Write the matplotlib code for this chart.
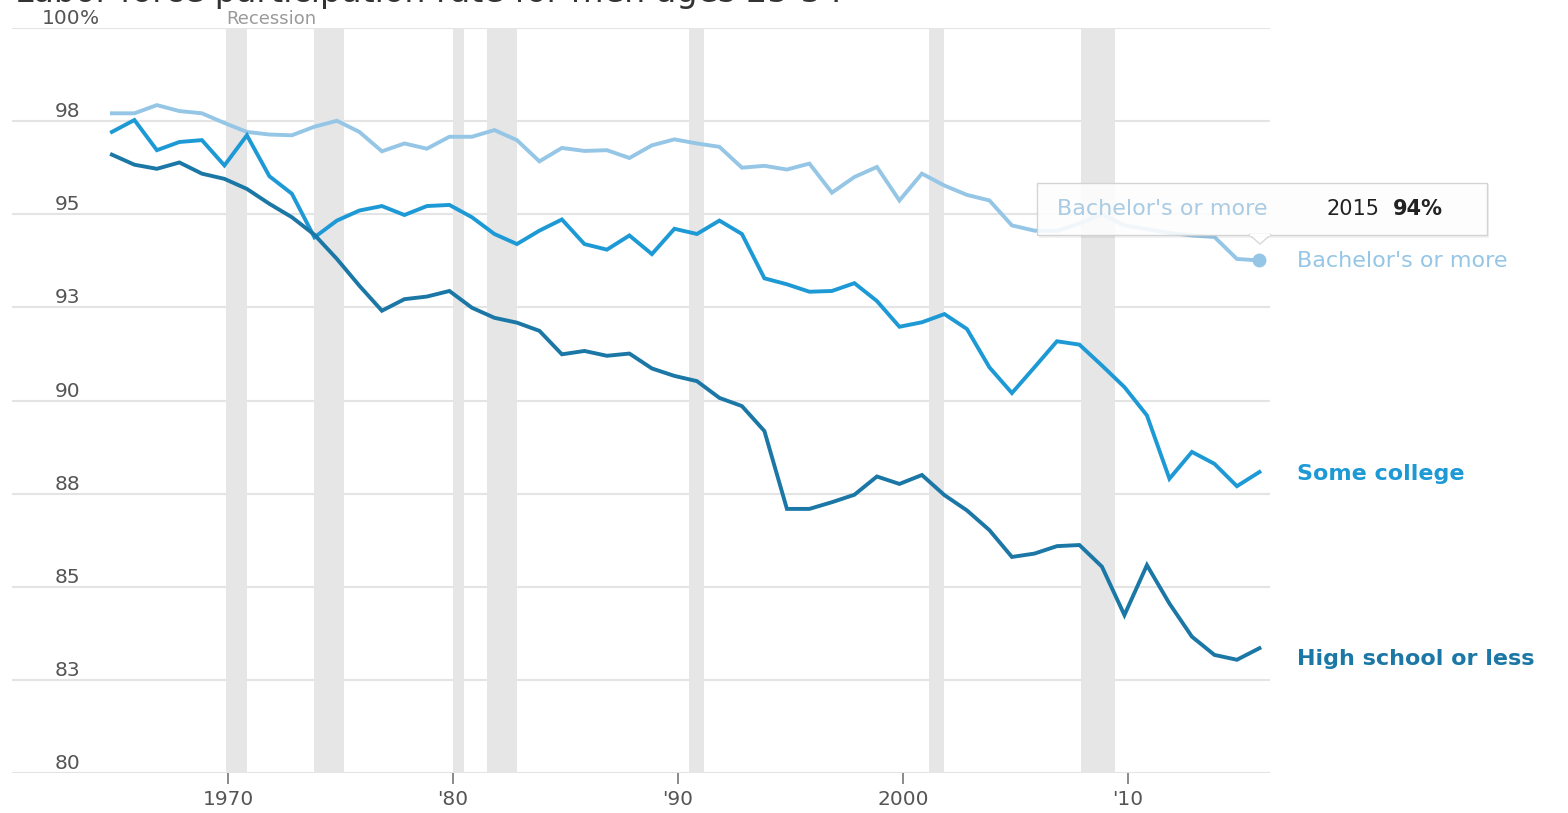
import matplotlib
matplotlib.use("Agg")
import matplotlib.pyplot as plt
import matplotlib.patches as mpatches
from matplotlib.transforms import blended_transform_factory
import numpy as np

# ---------------- data ----------------
years = list(range(1964, 2016))
bachelors = [97.71, 97.71, 97.93, 97.77, 97.71, 97.45, 97.21, 97.14, 97.12, 97.35,
             97.51, 97.21, 96.69, 96.90, 96.76, 97.08, 97.08, 97.26, 96.99, 96.42,
             96.78, 96.70, 96.72, 96.51, 96.85, 97.01, 96.90, 96.81, 96.25, 96.30,
             96.20, 96.36, 95.58, 96.00, 96.27, 95.37, 96.09, 95.77, 95.52, 95.37,
             94.70, 94.56, 94.55, 94.75, 95.00, 94.70, 94.60, 94.50, 94.43, 94.39,
             93.80, 93.76]
some_college = [97.21, 97.53, 96.72, 96.94, 96.99, 96.31, 97.12, 96.02, 95.55, 94.38,
                94.83, 95.10, 95.22, 94.98, 95.22, 95.25, 94.92, 94.47, 94.20, 94.56,
                94.86, 94.20, 94.05, 94.43, 93.93, 94.61, 94.47, 94.83, 94.47, 93.28,
                93.12, 92.92, 92.94, 93.15, 92.67, 91.98, 92.10, 92.32, 91.92, 90.89,
                90.20, 90.89, 91.59, 91.50, 90.94, 90.36, 89.60, 87.90, 88.62, 88.30,
                87.70, 88.08]
high_school = [96.60, 96.33, 96.22, 96.39, 96.09, 95.95, 95.68, 95.28, 94.92, 94.45,
               93.80, 93.08, 92.41, 92.72, 92.79, 92.94, 92.49, 92.22, 92.09, 91.87,
               91.24, 91.33, 91.20, 91.26, 90.86, 90.66, 90.52, 90.07, 89.85, 89.18,
               87.09, 87.09, 87.27, 87.47, 87.96, 87.76, 88.00, 87.46, 87.05, 86.52,
               85.80, 85.89, 86.09, 86.12, 85.54, 84.24, 85.58, 84.55, 83.66, 83.17,
               83.04, 83.35]
series_names = ["Bachelor's or more", "Some college", "High school or less"]
recession_starts = [1969.92, 1973.83, 1980.00, 1981.50, 1990.50, 2001.17, 2007.92]
recession_ends = [1970.83, 1975.17, 1980.50, 1982.83, 1991.17, 2001.83, 2009.42]
x_ticks = [1970, 1980, 1990, 2000, 2010]
x_tick_labels = ["1970", "'80", "'90", "2000", "'10"]
y_ticks = [80, 82.5, 85, 87.5, 90, 92.5, 95, 97.5, 100]
y_tick_labels = ["80", "83", "85", "88", "90", "93", "95", "98", "100"]
tooltip_year = "2015"
tooltip_value = "94%"
title = "Labor force participation rate for men ages 25-54"

# ---------------- style ----------------
colors = ["#95c6e6", "#1d9ad5", "#1b77a5"]
W, H = 1568, 813
FONT = "DejaVu Sans"
plt.rcParams["font.family"] = [FONT]

fig = plt.figure(figsize=(W / 100, H / 100), dpi=100)
ax = fig.add_axes([12 / W, 40 / H, 1258 / W, 745 / H])
ax.set_xlim(1960.4, 2016.31)
ax.set_ylim(80, 100)
for s in ax.spines.values():
    s.set_visible(False)

# gridlines
ax.set_yticks(y_ticks)
ax.yaxis.grid(True, color="#e4e4e4", lw=1.5, zorder=0)
ax.set_axisbelow(True)
ax.tick_params(axis="y", length=0, labelleft=False)

# x ticks
ax.set_xticks(x_ticks)
ax.set_xticklabels(x_tick_labels)
ax.tick_params(axis="x", length=8, width=1.2, color="#777777", pad=4,
               labelsize=14.5, labelcolor="#555555")

# recession bands
for s, e in zip(recession_starts, recession_ends):
    ax.axvspan(s, e, color="#e6e6e6", zorder=1, lw=0)
ax.text(recession_starts[0], 100, "Recession", ha="left", va="bottom",
        fontsize=13, color="#9a9a9a")

# y labels
bt = blended_transform_factory(ax.transAxes, ax.transData)
lab_x = (80 - 12) / 1258
for v, lab in zip(y_ticks, y_tick_labels):
    ax.text(lab_x, v, lab, transform=bt, ha="right", va="bottom",
            fontsize=14.5, color="#555555")
ax.text(lab_x, y_ticks[-1], "%", transform=bt, ha="left", va="bottom",
        fontsize=14.5, color="#555555")

# lines
t = np.array(years) + 0.84
data = [bachelors, some_college, high_school]
for vals, c in zip(data, colors):
    ax.plot(t, vals, color=c, lw=2.8, solid_joinstyle="miter", zorder=3)
ax.plot(t[-1], bachelors[-1], "o", ms=9, color=colors[0], zorder=4)

# end labels
label_dy = [-1, -2, -11]
weights = ["normal", "bold", "bold"]
for name, vals, c, dy, w in zip(series_names, data, colors, label_dy, weights):
    ax.annotate(name, xy=(t[-1], vals[-1]), xytext=(38, dy),
                textcoords="offset pixels", ha="left", va="center",
                fontsize=16, color=c, fontweight=w, annotation_clip=False)

# tooltip
def fx(px):
    return px / W
def fy(py):
    return 1 - py / H

shadow = mpatches.Rectangle((fx(1039), fy(238)), fx(1489) - fx(1039), fy(184) - fy(238),
                            transform=fig.transFigure, facecolor="#000000", alpha=0.05,
                            lw=0, zorder=5)
fig.add_artist(shadow)
box = mpatches.Rectangle((fx(1037), fy(235)), fx(1487) - fx(1037), fy(183) - fy(235),
                         transform=fig.transFigure, facecolor="white", alpha=0.88,
                         edgecolor="#cfcfcf", lw=1.0, zorder=6)
fig.add_artist(box)
ptr = mpatches.Polygon([(fx(1249), fy(234.5)), (fx(1271), fy(234.5)), (fx(1260), fy(244))],
                       closed=True, transform=fig.transFigure, facecolor="white",
                       edgecolor="#d6d6d6", lw=1.0, alpha=0.95, zorder=6)
fig.add_artist(ptr)
fig.add_artist(mpatches.Rectangle((fx(1250), fy(236)), fx(1270) - fx(1250), 2.2 / H,
                                  transform=fig.transFigure, facecolor="white",
                                  lw=0, zorder=7))
fig.text(fx(1057), fy(209), series_names[0], ha="left", va="center",
         fontsize=16, color="#a9cbe3", zorder=8)
fig.text(fx(1327), fy(209), tooltip_year, ha="left", va="center",
         fontsize=15, color="#222222", zorder=8)
fig.text(fx(1393), fy(209), tooltip_value, ha="left", va="center",
         fontsize=15, color="#222222", fontweight="bold", zorder=8)

# title, mostly cut off at the top edge as in the reference
fig.text(fx(15), fy(2), title, ha="left", va="baseline", fontsize=24, color="#333333")

fig.savefig("out.png", dpi=100)
